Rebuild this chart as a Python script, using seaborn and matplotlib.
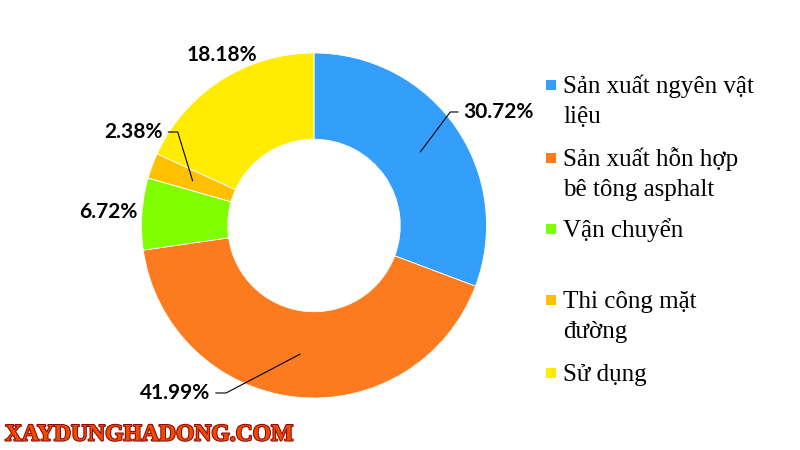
import numpy as np
import matplotlib
matplotlib.use("Agg")
import matplotlib.pyplot as plt
import matplotlib.patheffects as pe
import seaborn as sns

labels = ["Sản xuất ngyên vật\nliệu", "Sản xuất hỗn hợp\nbê tông asphalt",
          "Vận chuyển", "Thi công mặt\nđường", "Sử dụng"]
values = [30.72, 41.99, 6.72, 2.38, 18.18]
pct_text = ["30.72%", "41.99%", "6.72%", "2.38%", "18.18%"]
colors = ["#339ffb", "#fd7b1f", "#80ff00", "#ffc000", "#ffec00"]

sns.set_style("white")
plt.rcParams['font.family'] = ['Liberation Serif', 'DejaVu Serif']

fig = plt.figure(figsize=(8, 4.5), dpi=100)
# square axes in pixels: centre (314, 225.5), radius 172.5 px
ax = fig.add_axes([141.5 / 800, (450 - 398) / 450, 345 / 800, 345 / 450])
pal = sns.color_palette(colors)
wedges, _ = ax.pie(values, colors=pal, startangle=90, counterclock=False,
                   radius=1.0, wedgeprops=dict(width=0.5, edgecolor="white", linewidth=0.6))
ax.set_xlim(-1, 1)
ax.set_ylim(-1, 1)
ax.set_aspect("equal")
ax.axis("off")

# mid angles from data
cum = np.cumsum([0] + values[:-1])
mids = np.deg2rad(90 - (cum + np.array(values) / 2) * 3.6)

# label placement: (text x, text y, ha, elbow x or None)
lab_pos = [(0.865, 0.658, "left", 0.79),
           (-0.60, -0.971, "right", -0.51),
           (-1.194, 0.078, "center", None),
           (-0.875, 0.542, "right", -0.79),
           (-0.533, 0.99, "center", None)]
bold = dict(family=["Lato", "DejaVu Sans"], fontweight="bold", fontsize=15, color="black")
for i, (tx, ty, ha, ex) in enumerate(lab_pos):
    ax.text(tx, ty, pct_text[i], ha=ha, va="center", clip_on=False, **bold)
    if ex is not None:
        px, py = 0.75 * np.cos(mids[i]), 0.75 * np.sin(mids[i])
        end = tx - 0.03 if ha == "left" else tx + 0.03
        ax.plot([px, ex, end], [py, ty, ty], color="black", lw=0.8, clip_on=False)

# legend drawn manually to match uneven spacing (marker centre in px)
leg_y = [85, 158, 229, 300, 373]
for lab, c, y in zip(labels, colors, leg_y):
    fig.patches.append(plt.Rectangle((546 / 800, 1 - (y + 5) / 450), 10 / 800, 10 / 450,
                                     transform=fig.transFigure, facecolor=c, edgecolor="none"))
    for k, line in enumerate(lab.split("\n")):
        fig.text(563 / 800, 1 - (y + 8 + 30 * k) / 450, line, ha="left", va="baseline",
                 fontsize=18, color="black")

wm = fig.text(5 / 800, 1 - 435 / 450, "XAYDUNGHADONG.COM", ha="left", va="center",
              fontsize=17, fontweight="bold", color="#f04a00",
              family=["Liberation Serif"])
wm.set_path_effects([pe.withStroke(linewidth=1.5, foreground="#8a0a0a")])

fig.savefig("out.png", dpi=100, facecolor="white")
